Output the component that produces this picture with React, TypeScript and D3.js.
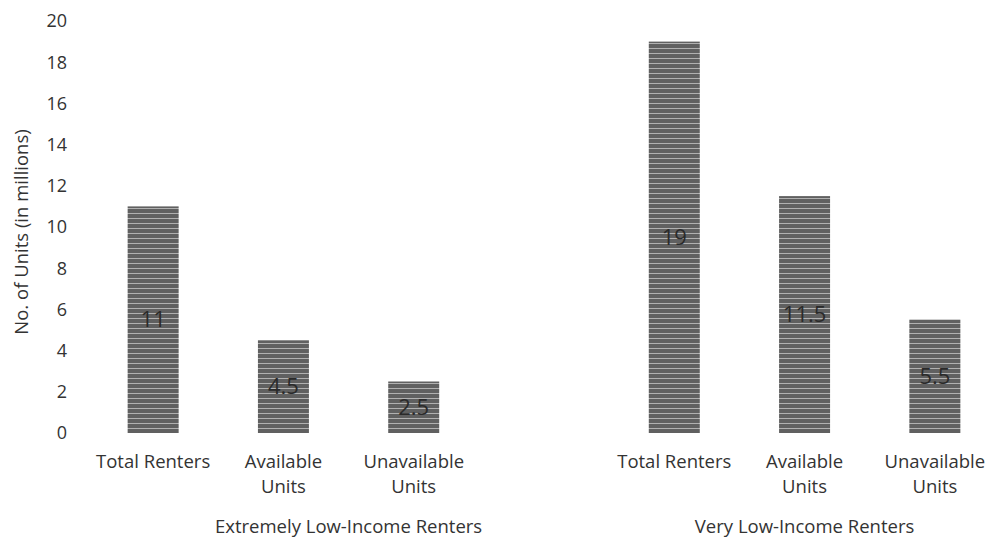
import React from "react";
import * as d3 from "d3";

const categories = ["Total Renters", "Available Units", "Unavailable Units", "", "Total Renters", "Available Units", "Unavailable Units"];
const categoryLines = [["Total Renters"], ["Available", "Units"], ["Unavailable", "Units"], [], ["Total Renters"], ["Available", "Units"], ["Unavailable", "Units"]];
const values: (number | null)[] = [11, 4.5, 2.5, null, 19, 11.5, 5.5];
const groups = ["Extremely Low-Income Renters", "Very Low-Income Renters"];
const groupSlots = [[0, 3], [4, 6]];
const yTicks = [0, 2, 4, 6, 8, 10, 12, 14, 16, 18, 20];

const W = 989, H = 540;
const font = "'Open Sans', 'Noto Sans', sans-serif";

export default function App() {
  const y = d3.scaleLinear().domain([0, 20]).range([433, 21]);
  const slot = d3.scaleBand<number>().domain(d3.range(categories.length)).range([88, 1000]);
  const bw = 51;
  return (
    <svg width={W} height={H} style={{ position: "absolute", left: 0, top: 0, background: "#fff" }}>
      <defs>
        <pattern id="stripes" width="8" height="5" patternUnits="userSpaceOnUse">
          <rect width="8" height="5" fill="#606060" />
          <rect y="3" width="8" height="1" fill="#b0b0b0" />
        </pattern>
      </defs>
      {yTicks.map((t) => (
        <text key={t} x={67} y={y(t)} dy="0.35em" textAnchor="end" fontFamily={font} fontSize={18} fill="#333">{t}</text>
      ))}
      <text transform={`translate(22,${y(10) + 5}) rotate(-90)`} textAnchor="middle" dy="0.35em" fontFamily={font} fontSize={18.5} fill="#333">No. of Units (in millions)</text>
      {values.map((v, i) => {
        if (v == null) return null;
        const cx = slot(i)! + slot.bandwidth() / 2;
        return (
          <g key={i}>
            <rect x={cx - bw / 2} y={y(v)} width={bw} height={y(0) - y(v)} fill="url(#stripes)" />
            <text x={cx} y={(y(v) + y(0)) / 2} dy="0.35em" textAnchor="middle" fontFamily={font} fontSize={22} fill="#2a2a2a">{v}</text>
          </g>
        );
      })}
      {categoryLines.map((lines, i) => {
        const cx = slot(i)! + slot.bandwidth() / 2;
        return lines.map((l, j) => (
          <text key={`${i}-${j}`} x={cx} y={462 + j * 25} dy="0.35em" textAnchor="middle" fontFamily={font} fontSize={18.5} fill="#333">{l}</text>
        ));
      })}
      {groups.map((g, k) => {
        const [a, b] = groupSlots[k];
        const cx = (slot(a)! + slot(b)! + slot.bandwidth()) / 2;
        return <text key={g} x={cx} y={527} dy="0.35em" textAnchor="middle" fontFamily={font} fontSize={18.5} fill="#333">{g}</text>;
      })}
    </svg>
  );
}
